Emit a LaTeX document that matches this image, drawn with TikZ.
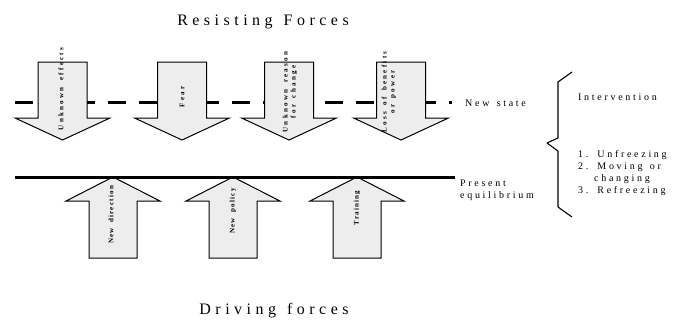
\documentclass[tikz,border=0pt]{standalone}
\usepackage{fontspec}
\setmainfont{Liberation Serif}
\newfontfamily\spacedfont[LetterSpace=27,WordSpace=1.4]{Liberation Serif}
\newfontfamily\titlefont[LetterSpace=28,WordSpace=1.3]{Liberation Serif}
\newfontfamily\arrfont[LetterSpace=33,WordSpace=1.6]{Liberation Serif}
\newfontfamily\uparrfont[LetterSpace=18,WordSpace=1.8]{Liberation Serif}
\newcommand\myDown[1]{%
  \draw[arr] ({#1-24.5},62) -- ({#1+24.5},62) -- ({#1+24.5},118) -- ({#1+47.5},118)
    -- (#1,140) -- ({#1-47.5},118) -- ({#1-24.5},118) -- cycle;}
\newcommand\myUp[1]{%
  \draw[arr] ({#1-24},258) -- ({#1+24},258) -- ({#1+24},201) -- ({#1+47},201)
    -- (#1,177) -- ({#1-47},201) -- ({#1-24},201) -- cycle;}
\begin{document}
\begin{tikzpicture}[x=1pt,y=-1pt,
  arr/.style={draw=black, line width=1pt, fill=black!7, line join=miter},
  lbl/.style={font=\spacedfont\fontsize{10}{12}\selectfont, inner sep=0pt, anchor=west},
  inarr/.style={rotate=90, font=\arrfont\bfseries\fontsize{7}{8}\selectfont, align=center, inner sep=0pt},
  inuparr/.style={rotate=90, font=\uparrfont\bfseries\fontsize{7}{8}\selectfont, align=center, inner sep=0pt},
  ttl/.style={font=\titlefont\fontsize{16}{18}\selectfont, inner sep=0pt}]
\useasboundingbox (0,0) rectangle (677,322);
% dashed new state line
\coordinate (ds) at (15,102);
\coordinate (de) at (452,102);
\draw[line width=3pt, dash pattern=on 18pt off 13pt] (ds) -- (de);
% resisting arrows
\myDown{62.5}
\myDown{182}
\myDown{289}
\myDown{401}
\node[inarr] (r1) at (61,89) {Unknown effects};
\node[inarr] (r2) at (182,97) {Fear};
\node[inarr] (r3) at (290,92) {Unknown reason\\for change};
\node[inarr] (r4) at (389,92) {Loss of benefits\\or power};
% driving arrows
\myUp{113}
\myUp{233}
\myUp{357}
\node[inuparr] (d1) at (111,215) {New direction};
\node[inuparr] (d2) at (233,211) {New policy};
\node[inuparr] (d3) at (357,208) {Training};
% present equilibrium line
\coordinate (ps) at (15,177);
\coordinate (pe) at (455,177);
\draw[line width=3pt] (ps) -- (pe);
% labels
\node[ttl] (t1) at (263,22) {Resisting Forces};
\node[ttl] (t2) at (274,311) {Driving forces};
\node[lbl] (ns) at (465,103) {New state};
\node[lbl, align=left, anchor=north west] (peq) at (460,180) {Present\\equilibrium};
\node[lbl] (iv) at (578,97) {Intervention};
\node[lbl, align=left, anchor=north west] (st) at (578,150) {1. Unfreezing\\2. Moving or\\\hspace*{1.6em}changing\\3. Refreezing};
% brace
\coordinate (b1) at (572,72);
\coordinate (b2) at (558,82);
\coordinate (b3) at (558,138);
\coordinate (b4) at (547,143);
\coordinate (b5) at (558,151);
\coordinate (b6) at (558,207);
\coordinate (b7) at (572,217);
\draw[line width=1.1pt, line join=round] (b1) -- (b2) -- (b3) -- (b4) -- (b5) -- (b6) -- (b7);
\end{tikzpicture}
\end{document}
